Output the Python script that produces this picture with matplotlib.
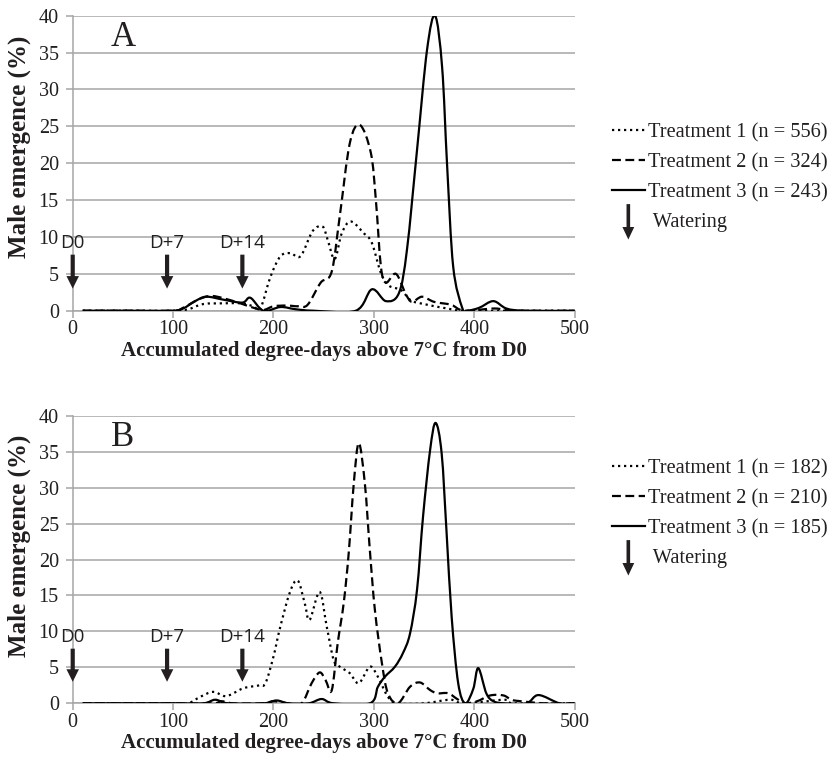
import numpy as np
import matplotlib
matplotlib.use('Agg')
import matplotlib.pyplot as plt
from matplotlib.path import Path
from matplotlib.patches import PathPatch, FancyArrow
from matplotlib.lines import Line2D
from matplotlib.legend_handler import HandlerBase

plt.rcParams['font.family'] = 'serif'
plt.rcParams['font.serif'] = ['Liberation Serif', 'DejaVu Serif']

# ---- data (x = degree-days, y = male emergence %) ----
# Panel A
a1_x = [10, 60, 100, 115, 130, 150, 168, 180, 187, 197, 207, 217, 227, 239, 249, 254, 261, 268, 277,
        290, 298, 307, 315, 327, 337, 350, 373, 390, 440, 500]
a1_y = [0, 0, 0, 0.2, 0.9, 1.0, 1.0, 0.6, 0.3, 4.6, 7.4, 7.8, 7.4, 10.8, 11.4, 9.6, 7.0, 10.5, 12.1,
        10.5, 9.2, 5.1, 3.4, 2.8, 1.4, 0.9, 0.3, 0, 0, 0]

a2_x = [10, 60, 100, 110, 125, 137, 150, 167, 180, 190, 200, 213, 225, 234, 247, 258, 266, 276, 286,
        297, 302, 307, 312, 322, 332, 338, 348, 360, 377, 390, 420, 440, 500]
a2_y = [0, 0, 0, 0.4, 1.5, 2.0, 1.7, 1.0, 0.4, 0.1, 0.6, 0.7, 0.6, 0.8, 3.8, 5.3, 12.8, 22.7, 25.2,
        21.4, 15, 6, 3.8, 5.0, 2.2, 1.2, 1.9, 1.2, 0.8, 0, 0.3, 0, 0]

a3_x = [10, 60, 100, 110, 122, 133, 150, 169, 177, 190, 207, 222, 240, 282, 298, 312, 325, 333, 343,
        353, 361, 368, 373, 379, 388, 393, 405, 419, 432, 450, 500]
a3_y = [0, 0, 0, 0.3, 1.3, 1.9, 1.5, 1.1, 1.75, 0, 0.5, 0.2, 0, 0, 2.9, 1.3, 2.4, 8.3, 21.8,
        35.4, 40, 33, 19.6, 6, 0.4, 0, 0.4, 1.3, 0.3, 0, 0]

# Panel B
b1_x = [10, 60, 100, 115, 127, 140, 153, 170, 186, 192, 200, 206, 216, 224, 231, 236, 246, 253, 260,
        266, 276, 285, 296, 304, 314, 324, 350, 376, 390, 430, 440, 500]
b1_y = [0, 0, 0, 0, 0.9, 1.6, 1.0, 2.1, 2.5, 2.8, 6.5, 10.2, 15.3, 17.1, 14, 11.6, 15.5, 10.7, 6.0,
        5.1, 4.2, 2.8, 5.1, 3.7, 0.9, 0, 0, 0.5, 0, 0.5, 0, 0]

b2_x = [10, 60, 100, 140, 148, 160, 190, 200, 215, 228, 238, 246, 252, 258, 264, 270, 275, 280, 285,
        291, 296, 301, 308, 314, 324, 336, 346, 356, 363, 374, 383, 391, 403, 416, 429, 437, 446, 470, 500]
b2_y = [0, 0, 0, 0, 0.3, 0, 0, 0.3, 0, 0, 2.8, 4.3, 3.2, 1.8, 8.4, 14, 21, 30.6, 36.2,
        30.6, 21.3, 13, 5.6, 1.4, 0, 2.3, 2.9, 1.85, 1.4, 1.4, 0.6, 0, 0.3, 1.1, 1.1, 0.5, 0.3, 0, 0]

b3_x = [10, 60, 100, 130, 142, 155, 190, 203, 215, 235, 248, 260, 296, 304, 311, 321, 329, 336, 343,
        349, 356, 361.5, 367.5, 372.5, 377.5, 384, 391, 399, 404, 412, 419, 430, 452, 464, 485, 500]
b3_y = [0, 0, 0, 0, 0.5, 0, 0, 0.4, 0, 0, 0.6, 0, 0, 2.3, 3.7, 5.1, 7, 9.7, 15.8,
        26, 35.2, 39, 34.8, 23.6, 12, 2.8, 0, 2, 4.9, 1.4, 0.3, 0, 0, 1.15, 0, 0]

labels_a = ['Treatment 1 (n = 556)', 'Treatment 2 (n = 324)', 'Treatment 3 (n = 243)', ' Watering']
labels_b = ['Treatment 1 (n = 182)', 'Treatment 2 (n = 210)', 'Treatment 3 (n = 185)', ' Watering']
water_x = [0, 94, 169]
water_txt = ['D0', 'D+7', 'D+14']
xticks = [0, 100, 200, 300, 400, 500]
yticks = [0, 5, 10, 15, 20, 25, 30, 35, 40]

styles = [(0, (1, 1.7)), (0, (4, 2)), '-']
GRID = '#a6a6a6'
TXT = '#231f20'


def smooth_path(xs, ys):
    # Excel style smoothed line (Catmull-Rom as cubic Bezier)
    pts = np.column_stack([xs, ys]).astype(float)
    n = len(pts)
    verts = [pts[0]]
    codes = [Path.MOVETO]
    for i in range(n - 1):
        p0 = pts[max(i - 1, 0)]
        p1 = pts[i]
        p2 = pts[i + 1]
        p3 = pts[min(i + 2, n - 1)]
        verts += [p1 + (p2 - p0) / 6, p2 - (p3 - p1) / 6, p2]
        codes += [Path.CURVE4] * 3
    return Path(verts, codes)


class WateringArrow:
    pass


class ArrowHandler(HandlerBase):
    def create_artists(self, legend, orig_handle, xdescent, ydescent, width, height, fontsize, trans):
        x = width / 2 - xdescent
        top = height + 6.2
        arr = FancyArrow(x, top, 0, -(height + 15.2), width=2.6, head_width=8.5, head_length=9,
                         length_includes_head=True, color=TXT, lw=0, transform=trans)
        return [arr]


def draw_panel(ax, series, letter, labels, legend_top, ylab_y):
    for (xs, ys), ls in zip(series, styles):
        ax.add_patch(PathPatch(smooth_path(xs, ys), fill=False, edgecolor='black', lw=1.6,
                               linestyle=ls, capstyle='butt', joinstyle='round', zorder=3))
    ax.set_xlim(0, 500)
    ax.set_ylim(0, 40)
    ax.set_xticks(xticks)
    ax.set_yticks(yticks)
    ax.grid(axis='y', color=GRID, lw=1.1)
    ax.set_axisbelow(True)
    for s in ['top', 'right']:
        ax.spines[s].set_visible(False)
    for s in ['left', 'bottom']:
        ax.spines[s].set_color(GRID)
        ax.spines[s].set_linewidth(1.1)
    ax.tick_params(colors=GRID, labelcolor=TXT, labelsize=14.5, length=5, width=1.1)
    ax.tick_params(axis='x', pad=2)
    ax.tick_params(axis='y', pad=5)
    ax.set_xlabel('Accumulated degree-days above 7°C from D0', fontsize=15, fontweight='bold',
                  color=TXT, labelpad=1)
    ax.set_ylabel('Male emergence (%)', fontsize=18, fontweight='bold', color=TXT)
    ax.yaxis.set_label_coords(-0.083, ylab_y)
    ax.text(50, 37, letter, fontsize=25, ha='center', va='center', color=TXT)

    for wx, wt in zip(water_x, water_txt):
        ax.annotate('', xy=(wx, 3.0), xytext=(wx, 7.6), annotation_clip=False,
                    arrowprops=dict(width=3, headwidth=9, headlength=9, shrink=0,
                                    facecolor=TXT, edgecolor='none'))
        ax.text(wx, 9.2, wt, ha='center', va='center', fontsize=13.5, color=TXT,
                family=['Open Sans', 'DejaVu Sans'], clip_on=False)

    handles = [Line2D([], [], color='black', lw=1.6, ls=ls) for ls in styles] + [WateringArrow()]
    ax.legend(handles, labels, handler_map={WateringArrow: ArrowHandler()},
              loc='upper left', bbox_to_anchor=(612 / 831, legend_top),
              bbox_transform=fig.transFigure, frameon=False, fontsize=14.7,
              handlelength=1.6, handletextpad=0.15, labelspacing=0.52,
              borderpad=0, borderaxespad=0, labelcolor=TXT)


fig = plt.figure(figsize=(8.31, 7.67), dpi=100)
ax_a = fig.add_axes([0.0875, 0.5949, 0.604, 0.3846])
ax_b = fig.add_axes([0.0875, 0.0830, 0.604, 0.375])

draw_panel(ax_a, [(a1_x, a1_y), (a2_x, a2_y), (a3_x, a3_y)], 'A', labels_a, 1 - 123 / 767, 0.555)
draw_panel(ax_b, [(b1_x, b1_y), (b2_x, b2_y), (b3_x, b3_y)], 'B', labels_b, 1 - 459 / 767, 0.547)

fig.savefig('out.png', dpi=100)
